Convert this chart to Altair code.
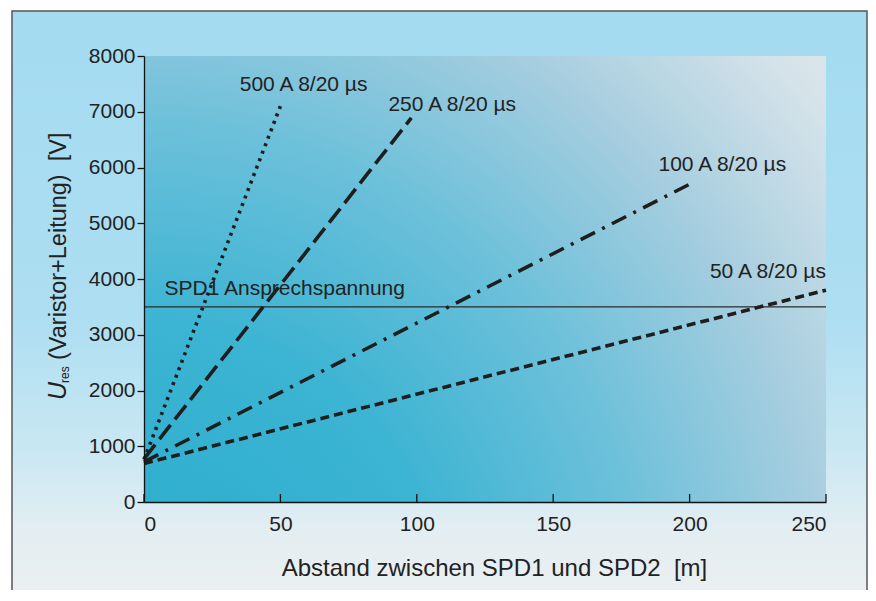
import altair as alt
import pandas as pd

# ---------------- data ----------------
x_ticks = [0, 50, 100, 150, 200, 250]
y_ticks = [0, 1000, 2000, 3000, 4000, 5000, 6000, 7000, 8000]

series_names = ["500 A 8/20 µs", "250 A 8/20 µs", "100 A 8/20 µs", "50 A 8/20 µs"]
x_start = [0, 0, 0, 0]
y_start = [760, 775, 720, 690]
x_end = [50, 98, 200, 250]
y_end = [7100, 6890, 5700, 3800]

label_x = [58.5, 113, 212, 228.7]
label_y = [7480, 7120, 6045, 4125]

threshold = 3500
threshold_label = "SPD1 Ansprechspannung"
threshold_label_x = 7.5
threshold_label_y = 3820

x_title = "Abstand zwischen SPD1 und SPD2 \u00a0[m]"
y_title_main = "U"
y_title_sub = "res"
y_title_rest = "(Varistor+Leitung) \u00a0[V]"

# ---------------- layout ----------------
W, H = 682, 446
FONT = "Liberation Sans"
TXT = "#222222"

rows = []
for n, xs, ys, xe, ye in zip(series_names, x_start, y_start, x_end, y_end):
    rows.append({"series": n, "x": xs, "y": ys, "o": 0})
    rows.append({"series": n, "x": xe, "y": ye, "o": 1})
lines_df = pd.DataFrame(rows)
labels_df = pd.DataFrame({"label": series_names, "lx": label_x, "ly": label_y})
thr_df = pd.DataFrame({"y": [threshold], "x0": [0], "x1": [250]})
thr_lab_df = pd.DataFrame({"label": [threshold_label], "lx": [threshold_label_x], "ly": [threshold_label_y]})
ticks_df = pd.DataFrame({"t": x_ticks})
one = pd.DataFrame({"k": [0]})

xscale = alt.Scale(domain=[0, 250], nice=False, zero=False)
yscale = alt.Scale(domain=[0, 8000], nice=False)

x_axis = alt.Axis(values=x_ticks, ticks=False, labelPadding=11, labelFontSize=21,
                  labelFont=FONT, labelColor=TXT, domainColor="#111", domainWidth=1.3,
                  grid=False, title=x_title, titleFont=FONT, titleFontSize=24,
                  titleFontWeight="normal", titleColor=TXT, titleY=73, titleX=350,
                  titleBaseline="alphabetic", titleAlign="center", zindex=1, format="d")
y_axis = alt.Axis(values=y_ticks, tickSize=7, tickColor="#111", tickWidth=1.3,
                  labelPadding=2, labelFontSize=21, labelFont=FONT, labelColor=TXT,
                  domainColor="#111", domainWidth=1.3, grid=False, title=None, zindex=1,
                  format="d")

frame = alt.Chart(one).mark_rect(
    fill={"gradient": "linear", "x1": 0, "y1": 0, "x2": 0, "y2": 1,
          "stops": [{"offset": 0, "color": "#a4dbf1"},
                    {"offset": 0.5, "color": "#addef1"},
                    {"offset": 0.72, "color": "#c8e7f3"},
                    {"offset": 0.86, "color": "#e3eef2"},
                    {"offset": 1, "color": "#eeeff0"}]},
    stroke="#555555", strokeWidth=1.5
).encode(x=alt.value(-132), x2=alt.value(723), y=alt.value(-45), y2=alt.value(560))

plot_bg = alt.Chart(one).mark_rect(
    fill={"gradient": "radial", "x1": 0, "y1": 1, "r1": 0, "x2": 0, "y2": 1, "r2": 1.45,
          "stops": [{"offset": 0, "color": "#2aaccd"},
                    {"offset": 0.3, "color": "#3cb4d3"},
                    {"offset": 0.5, "color": "#6cc0da"},
                    {"offset": 0.68, "color": "#a4cddf"},
                    {"offset": 0.85, "color": "#d4e2e9"},
                    {"offset": 1, "color": "#eceef0"}]}
).encode(x=alt.value(0), x2=alt.value(W), y=alt.value(0), y2=alt.value(H))

thr = alt.Chart(thr_df).mark_rule(color="#2a2a2a", strokeWidth=1.3).encode(
    x=alt.X("x0:Q", scale=xscale, axis=x_axis),
    x2="x1:Q",
    y=alt.Y("y:Q", scale=yscale, axis=y_axis),
)

lines = alt.Chart(lines_df).mark_line(color="#1e1e1e", strokeWidth=3.6, strokeCap="butt").encode(
    x=alt.X("x:Q", scale=xscale),
    y=alt.Y("y:Q", scale=yscale),
    detail="series:N",
    order="o:Q",
    strokeDash=alt.StrokeDash("series:N", legend=None,
                              scale=alt.Scale(domain=series_names,
                                              range=[[3, 5], [18, 7], [16, 8, 3, 8], [9, 5]])),
)

labels = alt.Chart(labels_df).mark_text(font=FONT, fontSize=21, color=TXT, align="center",
                                        baseline="middle").encode(
    x=alt.X("lx:Q", scale=xscale), y=alt.Y("ly:Q", scale=yscale), text="label:N")

thr_label = alt.Chart(thr_lab_df).mark_text(font=FONT, fontSize=21, color=TXT, align="left",
                                            baseline="middle").encode(
    x=alt.X("lx:Q", scale=xscale), y=alt.Y("ly:Q", scale=yscale), text="label:N")

xticks = alt.Chart(ticks_df).mark_rule(color="#111", strokeWidth=1.3).encode(
    x=alt.X("t:Q", scale=xscale), y=alt.value(H - 8), y2=alt.value(H))

yt_main = alt.Chart(one).mark_text(font=FONT, fontSize=25, fontStyle="italic", color=TXT,
                                   angle=270, align="left", baseline="alphabetic",
                                   text=y_title_main).encode(x=alt.value(-78), y=alt.value(344))
yt_sub = alt.Chart(one).mark_text(font=FONT, fontSize=12, color=TXT,
                                  angle=270, align="left", baseline="alphabetic",
                                  text=y_title_sub).encode(x=alt.value(-75), y=alt.value(327))
yt_rest = alt.Chart(one).mark_text(font=FONT, fontSize=23.5, color=TXT,
                                   angle=270, align="left", baseline="alphabetic",
                                   text=y_title_rest).encode(x=alt.value(-78), y=alt.value(304))

chart = alt.layer(frame, plot_bg, thr, lines, labels, thr_label, xticks,
                  yt_main, yt_sub, yt_rest).properties(
    width=W, height=H,
    autosize=alt.AutoSizeParams(type="none"),
    padding={"left": 136, "top": 48, "right": 42, "bottom": 88},
    background="white",
).configure_view(stroke=None)

chart.save("out.html", embed_options={"renderer": "svg", "actions": False})
